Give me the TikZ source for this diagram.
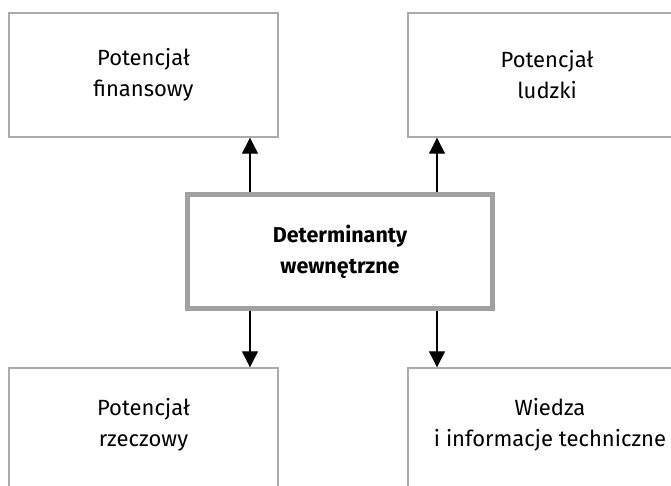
\documentclass[tikz,border=0pt]{standalone}
\usepackage{fontspec}
\setmainfont{Fira Sans}
\usetikzlibrary{arrows.meta,calc}
\begin{document}
\begin{tikzpicture}[x=1pt,y=-1pt,
  box/.style={draw=black!33, line width=1.4pt, rectangle, inner sep=0pt, align=center,
    font=\fontsize{22}{31}\selectfont, text=black},
  lbl/.style={font=\fontsize{22}{31}\selectfont, align=center, text=black},
  mainbox/.style={draw=black!37, line width=5pt, rectangle, inner sep=0pt, align=center,
    font=\fontsize{21.5}{31}\selectfont\bfseries, text=black},
  arr/.style={line width=1.1pt, -{Triangle[width=16pt,length=16pt]}}]
\useasboundingbox (0,0) rectangle (671,486);
\clip (0,0) rectangle (671,486);
\node[box, minimum width=269pt, minimum height=124pt] (tl) at (143.5,75) {Potencjał\\finansowy};
\node[box, minimum width=278pt, minimum height=124pt] (tr) at (547,75) {Potencjał\\ludzki};
\node[box, minimum width=269pt, minimum height=124pt] (bl) at (143.5,430) {};
\node[box, minimum width=278pt, minimum height=124pt] (br) at (547,430) {};
\node[lbl] (blt) at (143.5,425) {Potencjał\\rzeczowy};
\node[lbl] (brt) at (550,425) {Wiedza\\i informacje techniczne};
\node[mainbox, minimum width=305pt, minimum height=114pt] (c) at (340,251.5) {Determinanty\\wewnętrzne};
\coordinate (xl) at (250,0);
\coordinate (xr) at (437,0);
\draw[arr] (c.north -| xl) -- (tl.south -| xl);
\draw[arr] (c.north -| xr) -- (tr.south -| xr);
\draw[arr] (c.south -| xl) -- (bl.north -| xl);
\draw[arr] (c.south -| xr) -- (br.north -| xr);
\end{tikzpicture}
\end{document}
